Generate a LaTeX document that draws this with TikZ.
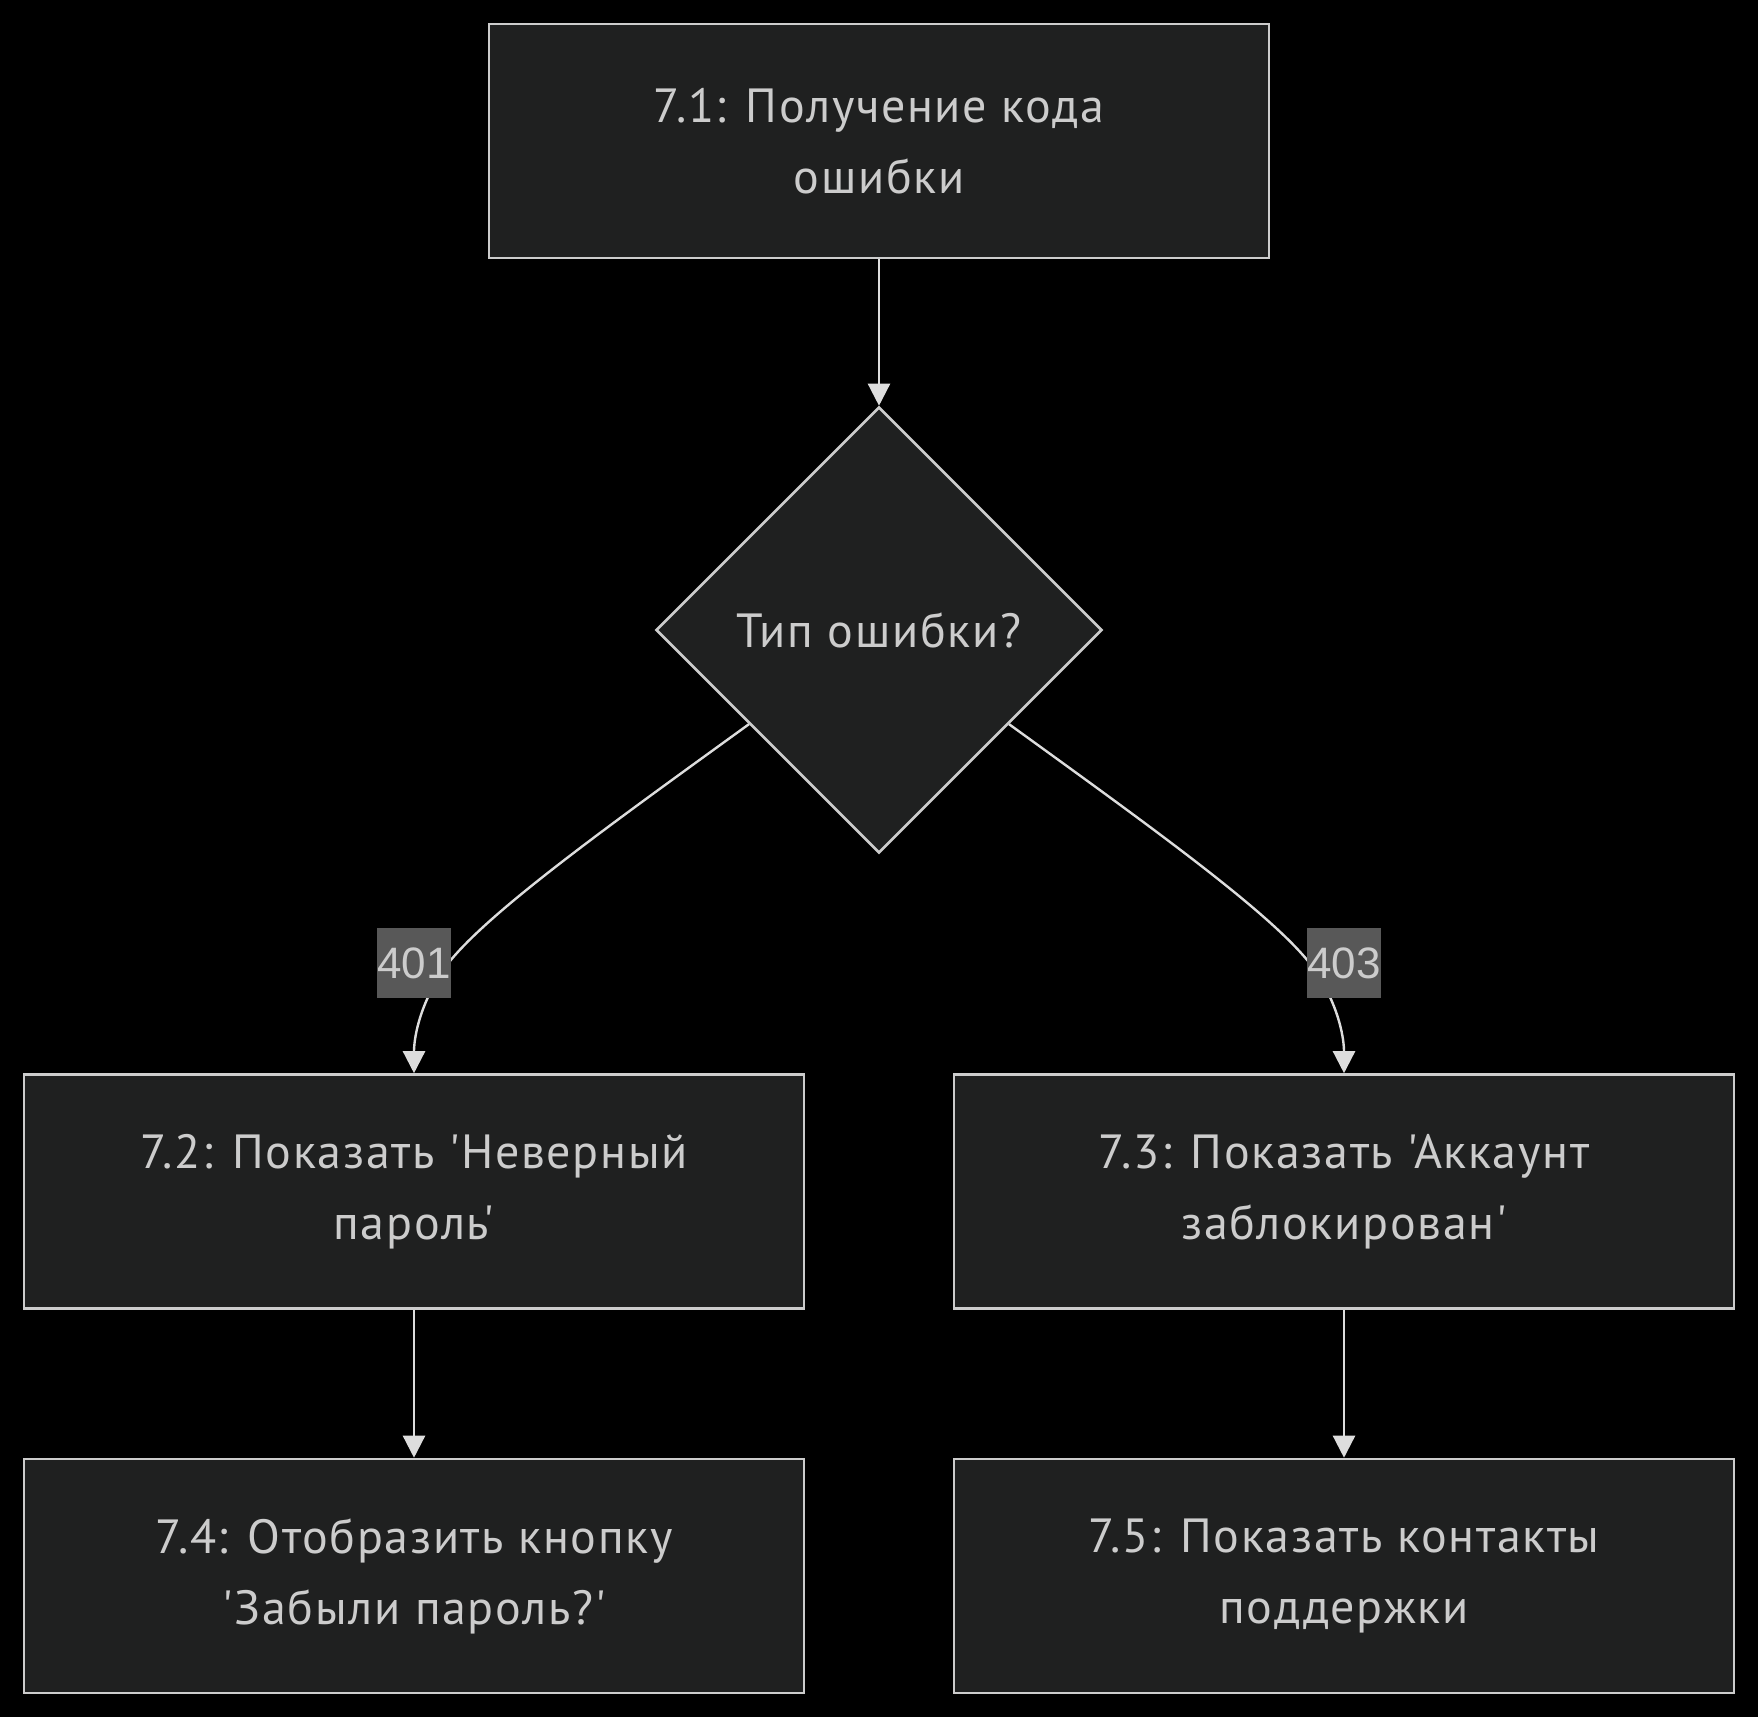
\documentclass[tikz,border=0pt]{standalone}
\usepackage{fontspec}
\usetikzlibrary{arrows.meta,shapes.geometric,calc}
\newfontfamily\nf{PT Sans}[Ligatures=TeXOff,LetterSpace=3.5]
\newfontfamily\lf{Liberation Sans}
\definecolor{bg}{HTML}{000000}
\definecolor{nodefill}{HTML}{1F2020}
\definecolor{nodeline}{HTML}{CCCCCC}
\definecolor{txt}{HTML}{CCCCCC}
\definecolor{lblbg}{HTML}{585858}
\definecolor{edge}{HTML}{DDDDDD}
\tikzset{
  box/.style={draw=nodeline, fill=nodefill, line width=2.6pt, minimum width=780pt, minimum height=234pt,
    inner sep=0pt, align=center, text=txt, font=\nf\fontsize{48}{71}\selectfont},
  decision/.style={diamond, aspect=1, draw=nodeline, fill=nodefill, line width=2.6pt,
    minimum width=446pt, minimum height=446pt, inner sep=0pt, text=txt, font=\nf\fontsize{48}{71}\selectfont},
  lbl/.style={fill=lblbg, text=txt, minimum width=74pt, minimum height=70pt, inner sep=0pt,
    font=\lf\fontsize{44}{44}\selectfont},
  conn/.style={draw=edge, line width=2.4pt, -{Triangle[length=22pt,width=22pt]}},
}
\begin{document}
\begin{tikzpicture}[x=1pt,y=-1pt]
\fill[bg] (0,0) rectangle (1758,1717);
\useasboundingbox (0,0) rectangle (1758,1717);

\node[box] (n71) at (879,141) {7.1: Получение кода\\ошибки};
\node[decision] (dia) at (879,630) {Тип ошибки?};
\node[box] (n72) at (414,1191.5) {7.2: Показать 'Неверный\\пароль'};
\node[box] (n73) at (1344,1191.5) {7.3: Показать 'Аккаунт\\заблокирован'};
\node[box] (n74) at (414,1576) {7.4: Отобразить кнопку\\'Забыли пароль?'};
\node[box] (n75) at (1344,1576) {7.5: Показать контакты\\поддержки};

\coordinate (sl) at ($(dia.west)!0.42!(dia.south)$);
\coordinate (sr) at ($(dia.east)!0.42!(dia.south)$);

\draw[conn] (n71.south) -- (dia.north);
\draw[conn] (sl) .. controls (600,832) and (470,925) .. (440,975)
  .. controls (418,1010) and (414,1040) .. (n72.north);
\draw[conn] (sr) .. controls (1158,832) and (1288,925) .. (1318,975)
  .. controls (1340,1010) and (1344,1040) .. (n73.north);
\draw[conn] (n72.south) -- (n74.north);
\draw[conn] (n73.south) -- (n75.north);

\node[lbl] (l401) at (414,963) {401};
\node[lbl] (l403) at (1344,963) {403};
\end{tikzpicture}
\end{document}
